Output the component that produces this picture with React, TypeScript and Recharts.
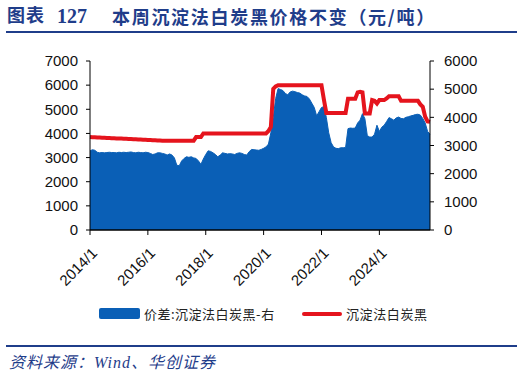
import { Area, ComposedChart, Line, XAxis, YAxis } from "recharts";

// 2014/1 ... 2025/10, monthly
const months: string[] = [];
for (let y = 2014; y <= 2025; y++) {
  for (let m = 1; m <= 12; m++) {
    if (y === 2025 && m > 10) break;
    months.push(`${y}/${m}`);
  }
}

// 沉淀法白炭黑 (left axis)
const priceValues = [
  3850, 3845, 3840, 3835, 3830, 3825, 3820, 3815, 3810, 3805, 3800, 3795,
  3790, 3785, 3780, 3775, 3770, 3765, 3760, 3755, 3750, 3745, 3740, 3735,
  3730, 3725, 3720, 3715, 3710, 3705, 3700, 3700, 3700, 3700, 3700, 3700,
  3700, 3700, 3700, 3700, 3700, 3700, 3700, 3700, 3850, 3850, 3850, 4000,
  4000, 4000, 4000, 4000, 4000, 4000, 4000, 4000, 4000, 4000, 4000, 4000,
  4000, 4000, 4000, 4000, 4000, 4000, 4000, 4000, 4000, 4000, 4000, 4000,
  4000, 4000, 4100, 4270, 5850, 5950, 6000, 6000, 6000, 6000, 6000, 6000,
  6000, 6000, 6000, 6000, 6000, 6000, 6000, 6000, 6000, 6000, 6000, 6000,
  6000, 5400, 4850, 4850, 4850, 4850, 4850, 4850, 4850, 4850, 4850, 5440,
  5440, 5440, 5440, 5700, 5720, 5700, 4830, 4830, 4830, 5380, 5350, 5240,
  5380, 5380, 5380, 5450, 5540, 5540, 5540, 5540, 5540, 5350, 5350, 5350,
  5350, 5350, 5350, 5350, 5350, 5200, 5100, 4690, 4500, 4480,
];

// 价差:沉淀法白炭黑 (right axis)
const spreadValues = [
  2810, 2850, 2830, 2760, 2740, 2750, 2740, 2750, 2760, 2750, 2750, 2740,
  2760, 2750, 2760, 2750, 2760, 2770, 2750, 2740, 2760, 2750, 2740, 2760,
  2750, 2720, 2680, 2700, 2740, 2740, 2720, 2700, 2660, 2700, 2660, 2560,
  2300, 2280, 2450, 2540, 2600, 2580, 2600, 2560, 2540, 2450, 2330, 2520,
  2680, 2810, 2790, 2740, 2680, 2600, 2660, 2740, 2720, 2700, 2710, 2700,
  2680, 2720, 2740, 2720, 2680, 2660, 2780, 2860, 2850, 2840, 2830, 2860,
  2900, 2950, 3050, 3450, 4000, 4670, 5020, 4990, 4950, 4850, 4800, 4900,
  4930, 4910, 4880, 4860, 4800, 4760, 4740, 4650, 4500, 4350, 4050, 4200,
  4350, 4380, 4000, 3450, 3100, 2950, 2900, 2890, 2920, 2920, 2930, 3600,
  3620, 3610, 3620, 3800, 3900, 4130, 3950, 3350, 3300, 3300, 3400, 3720,
  3500, 3650, 3720, 3850, 3990, 3950, 3900, 3980, 4010, 3960, 3950, 4000,
  4020, 4050, 4070, 4100, 4110, 4080, 3960, 3800, 3500, 3400,
];

const leftTicks = [0, 1000, 2000, 3000, 4000, 5000, 6000, 7000];
const rightTicks = [0, 1000, 2000, 3000, 4000, 5000, 6000];

const data = months.map((month, i) => ({
  month,
  price: priceValues[i],
  spread: spreadValues[i],
}));

const BLUE = "#0A5FB6";
const RED = "#E5141D";
const NAVY = "#1F3D8A";
const tickFont = { fontFamily: "'Liberation Sans', Arial, sans-serif", fontSize: 15, fill: "#111" };

const RotatedTick = ({ x, y, payload }: any) => (
  <g transform={`translate(${x + 5},${y + 14})`}>
    <text x={0} y={0} dy="0.3em" textAnchor="end" transform="rotate(-45)" {...tickFont}>
      {payload.value}
    </text>
  </g>
);

export default function App() {
  return (
    <div style={{ position: "absolute", left: 0, top: 0, width: 526, height: 376, background: "#fff" }}>
      <div
        style={{
          position: "absolute",
          top: 4,
          left: 7,
          color: NAVY,
          fontWeight: "bold",
          fontSize: 18,
          lineHeight: "24px",
          fontFamily: "'Liberation Serif', 'Noto Sans CJK SC', serif",
          whiteSpace: "nowrap",
        }}
      >
        <span style={{ position: "absolute", left: 0, letterSpacing: 1 }}>图表</span>
        <span style={{ position: "absolute", left: 50, fontSize: 20 }}>127</span>
        <span style={{ position: "absolute", left: 105, letterSpacing: 1.7, fontFamily: "'Noto Sans CJK SC', sans-serif" }}>
          本周沉淀法白炭黑价格不变（元/吨）
        </span>
      </div>
      <div style={{ position: "absolute", left: 6, top: 31, width: 511, height: 2, background: NAVY }} />

      <ComposedChart
        width={526}
        height={376}
        data={data}
        margin={{ top: 61, right: 0, left: 0, bottom: 86 }}
      >
        <XAxis
          dataKey="month"
          interval={23}
          tick={<RotatedTick />}
          tickSize={5}
          height={60}
          axisLine={{ stroke: "#000", strokeWidth: 1.5 }}
          tickLine={{ stroke: "#000" }}
        />
        <YAxis
          yAxisId="left"
          domain={[0, 7000]}
          ticks={leftTicks}
          width={90}
          tickSize={4}
          tickMargin={8}
          axisLine={{ stroke: "#000" }}
          tickLine={{ stroke: "#000" }}
          tick={tickFont}
        />
        <YAxis
          yAxisId="right"
          orientation="right"
          domain={[0, 6000]}
          ticks={rightTicks}
          width={96}
          tickSize={4}
          tickMargin={10}
          axisLine={{ stroke: "#000" }}
          tickLine={{ stroke: "#000" }}
          tick={tickFont}
        />
        <Area
          yAxisId="right"
          type="linear"
          dataKey="spread"
          stroke={BLUE}
          strokeWidth={1}
          fill={BLUE}
          fillOpacity={1}
          isAnimationActive={false}
        />
        <Line
          yAxisId="left"
          type="linear"
          dataKey="price"
          stroke={RED}
          strokeWidth={4}
          dot={false}
          isAnimationActive={false}
        />
      </ComposedChart>

      <div
        style={{
          position: "absolute",
          top: 305,
          left: 0,
          width: 526,
          fontFamily: "'Noto Sans CJK SC', sans-serif",
          fontSize: 13,
          color: "#222",
          lineHeight: "18px",
        }}
      >
        <div style={{ position: "absolute", left: 99, top: 3, width: 41, height: 11, background: BLUE, borderRadius: 2 }} />
        <span style={{ position: "absolute", left: 144, top: 0, letterSpacing: 0.5 }}>价差:沉淀法白炭黑-右</span>
        <div style={{ position: "absolute", left: 302, top: 7, width: 40, height: 4, background: RED, borderRadius: 2 }} />
        <span style={{ position: "absolute", left: 346, top: 0, letterSpacing: 0.6 }}>沉淀法白炭黑</span>
      </div>

      <div style={{ position: "absolute", left: 6, top: 345, width: 511, height: 2, background: NAVY }} />
      <div
        style={{
          position: "absolute",
          left: 9,
          top: 352,
          color: NAVY,
          fontStyle: "italic",
          fontSize: 16,
          lineHeight: "22px",
          letterSpacing: 1,
          fontFamily: "'Liberation Serif', 'Noto Sans CJK SC', serif",
          whiteSpace: "nowrap",
        }}
      >
        资料来源：Wind、华创证券
      </div>
    </div>
  );
}
